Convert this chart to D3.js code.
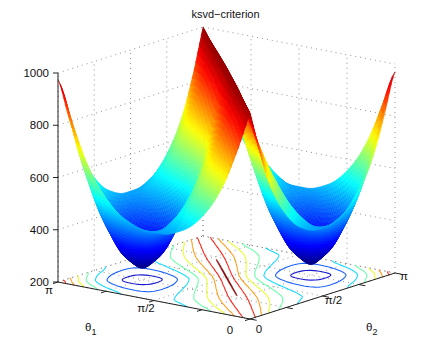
<!doctype html>
<html lang="en">
<head>
<meta charset="utf-8">
<title>ksvd-criterion</title>
<script src="https://d3js.org/d3.v7.min.js"></script>
<style>
    html, body { margin: 0; padding: 0; background: #fff; }
    svg { display: block; }
    text { font-family: "Liberation Sans", Arial, sans-serif; fill: #111; }
</style>
</head>
<body>
<script>
    // heights, theta1 = row, theta2 = column, steps of pi/16
    const zRows = [
        [988, 842, 716, 622, 556, 508, 480, 462, 460, 462, 480, 508, 556, 622, 716, 842, 970],
        [842, 990, 858, 747, 660, 594, 541, 503, 462, 435, 423, 431, 454, 500, 579, 691, 842],
        [716, 858, 992, 872, 769, 683, 612, 541, 480, 423, 382, 360, 360, 391, 457, 579, 716],
        [622, 747, 872, 995, 881, 779, 683, 594, 508, 431, 360, 305, 286, 305, 391, 500, 622],
        [556, 660, 769, 881, 999, 881, 769, 660, 556, 454, 360, 286, 242, 286, 360, 454, 556],
        [508, 594, 683, 779, 881, 1001, 872, 747, 622, 500, 391, 305, 286, 305, 360, 431, 508],
        [480, 541, 612, 683, 769, 872, 1002, 858, 716, 579, 457, 391, 360, 360, 382, 423, 480],
        [462, 503, 541, 594, 660, 747, 858, 1003, 842, 691, 579, 500, 454, 431, 423, 435, 462],
        [460, 462, 480, 508, 556, 622, 716, 842, 1004, 842, 716, 622, 556, 508, 480, 462, 460],
        [462, 435, 423, 431, 454, 500, 579, 691, 842, 1003, 858, 747, 660, 594, 541, 503, 462],
        [480, 423, 382, 360, 360, 391, 457, 579, 716, 858, 1002, 872, 769, 683, 612, 541, 480],
        [508, 431, 360, 305, 286, 305, 391, 500, 622, 747, 872, 1001, 881, 779, 683, 594, 508],
        [556, 454, 360, 286, 245, 286, 360, 454, 556, 660, 769, 881, 999, 881, 769, 660, 556],
        [622, 500, 391, 305, 286, 305, 360, 431, 508, 594, 683, 779, 881, 998, 872, 747, 622],
        [716, 579, 457, 391, 360, 360, 382, 423, 480, 541, 612, 683, 769, 872, 997, 858, 716],
        [842, 691, 579, 500, 454, 431, 423, 435, 462, 503, 541, 594, 660, 747, 858, 998, 842],
        [975, 842, 716, 622, 556, 508, 480, 462, 460, 462, 480, 508, 556, 622, 716, 842, 999]
    ]
    const contourLevels = [300, 400, 500, 600, 700, 800, 900, 1000]
    const zTicks = [200, 400, 600, 800, 1000]
    const angleTicks = [0, 4, 8, 12, 16]   // in pi/16 steps, same index as zRows
    const angleLabels = ["0", "π/2", "π"]
    const angleLabelAt = [0, 8, 16]

    const width = 436
    const height = 360
    const cornerX = 250
    const cornerY = 319
    const last = zRows.length - 1

    // orthographic view, the three box edges as seen on screen
    const t1x = d3.scaleLinear([0, last], [0, -192])
    const t1y = d3.scaleLinear([0, last], [0, -37])
    const t2x = d3.scaleLinear([0, last], [0, 145])
    const t2y = d3.scaleLinear([0, last], [0, -46])
    const zy = d3.scaleLinear([200, 1000], [0, -209])

    const px = (a, b) => cornerX + t1x(a) + t2x(b)
    const py = (a, b, z) => cornerY + t1y(a) + t2y(b) + zy(z)

    const jet = d3.scaleLinear()
        .domain([0, .125, .375, .625, .875, 1].map(t => 245 + t * 760))
        .range(["#000080", "#0000ff", "#00ffff", "#ffff00", "#ff0000", "#800000"])
        .clamp(true)

    const svg = d3.select("body").append("svg")
        .attr("width", width)
        .attr("height", height)

    // same as shading interp: colour runs smoothly inside each table cell
    function cr(p0, p1, p2, p3, t) {
        return p1 + .5 * t * (p2 - p0 + t * (2 * p0 - 5 * p1 + 4 * p2 - p3 + t * (3 * (p1 - p2) + p3 - p0)))
    }
    function at(i, j) {
        return zRows[Math.max(0, Math.min(last, i))][Math.max(0, Math.min(last, j))]
    }
    function zAt(x, y) {
        const i = Math.min(Math.floor(x), last - 1)
        const j = Math.min(Math.floor(y), last - 1)
        const fx = x - i
        const fy = y - j
        // keep the ridge sharp along the diagonal
        const flat = fx >= fy
            ? at(i, j) + fx * (at(i + 1, j) - at(i, j)) + fy * (at(i + 1, j + 1) - at(i + 1, j))
            : at(i, j) + fy * (at(i, j + 1) - at(i, j)) + fx * (at(i + 1, j + 1) - at(i, j + 1))
        const col = d3.range(-1, 3).map(k => cr(at(i + k, j - 1), at(i + k, j), at(i + k, j + 1), at(i + k, j + 2), fy))
        const round = cr(col[0], col[1], col[2], col[3], fx)
        const w = Math.max(0, Math.min(1, Math.abs(x - y) - 1))
        return flat + (round - flat) * w
    }

    const sub = 5
    const n = last * sub + 1
    const fine = d3.range(n).map(i => d3.range(n).map(j => zAt(i / sub, j / sub)))

    // grid on the two back walls and the floor
    const gridLines = []
    for (const t of angleTicks) {
        gridLines.push([[px(last, t), py(last, t, 200)], [px(last, t), py(last, t, 1000)]])
        gridLines.push([[px(t, last), py(t, last, 200)], [px(t, last), py(t, last, 1000)]])
        gridLines.push([[px(t, 0), py(t, 0, 200)], [px(t, last), py(t, last, 200)]])
        gridLines.push([[px(0, t), py(0, t, 200)], [px(last, t), py(last, t, 200)]])
    }
    for (const z of zTicks) {
        gridLines.push([[px(last, 0), py(last, 0, z)], [px(last, last), py(last, last, z)]])
        gridLines.push([[px(last, last), py(last, last, z)], [px(0, last), py(0, last, z)]])
    }
    svg.append("g")
        .selectAll("path")
        .data(gridLines)
        .join("path")
        .attr("d", d3.line())
        .attr("fill", "none")
        .attr("stroke", "#777")
        .attr("stroke-width", .8)
        .attr("stroke-dasharray", "1 4")

    // floor contours, d3.contours puts sample k at k + .5
    const flat = []
    for (let j = 0; j < n; j++) for (let i = 0; i < n; i++) flat.push(fine[i][j])
    const contourLine = d3.line()
        .defined(d => d[0] > 0 && d[0] < n && d[1] > 0 && d[1] < n)
        .x(d => px((d[0] - .5) / sub, (d[1] - .5) / sub))
        .y(d => py((d[0] - .5) / sub, (d[1] - .5) / sub, 200))
    const rings = []
    for (const c of d3.contours().size([n, n]).thresholds(contourLevels)(flat)) {
        for (const poly of c.coordinates) for (const ring of poly) rings.push({ level: c.value, ring })
    }
    svg.append("g")
        .selectAll("path")
        .data(rings)
        .join("path")
        .attr("d", d => contourLine(d.ring))
        .attr("fill", "none")
        .attr("stroke", d => jet(d.level))
        .attr("stroke-width", d => d.level === 1000 ? 1.4 : 1.1)
        .attr("stroke-linecap", "round")
        .attr("stroke-opacity", .9)

    // surface, far corner first
    const cells = []
    const vertex = (i, j) => [px(i / sub, j / sub), py(i / sub, j / sub, fine[i][j])]
    for (let i = n - 2; i >= 0; i--) {
        for (let j = n - 2; j >= 0; j--) {
            if (i === j) {
                cells.push({ pts: [vertex(i, j), vertex(i + 1, j), vertex(i + 1, j + 1)], z: (fine[i][j] + fine[i + 1][j] + fine[i + 1][j + 1]) / 3 })
                cells.push({ pts: [vertex(i, j), vertex(i, j + 1), vertex(i + 1, j + 1)], z: (fine[i][j] + fine[i][j + 1] + fine[i + 1][j + 1]) / 3 })
            } else {
                cells.push({
                    pts: [vertex(i, j), vertex(i + 1, j), vertex(i + 1, j + 1), vertex(i, j + 1)],
                    z: (fine[i][j] + fine[i + 1][j] + fine[i + 1][j + 1] + fine[i][j + 1]) / 4
                })
            }
        }
    }
    svg.append("g")
        .selectAll("path")
        .data(cells)
        .join("path")
        .attr("d", d => d3.line()(d.pts) + "Z")
        .attr("fill", d => jet(d.z))
        .attr("stroke", d => jet(d.z))
        .attr("stroke-width", .5)

    // axes
    const axis = svg.append("g").attr("stroke", "#222").attr("stroke-width", 1).attr("fill", "none")
    axis.append("path").attr("d", d3.line()([[px(last, 0), py(last, 0, 1000)], [px(last, 0), py(last, 0, 200)], [px(0, 0), py(0, 0, 200)], [px(0, last), py(0, last, 200)]]))
    const tickLen = .55
    for (const t of angleTicks) {
        axis.append("path").attr("d", d3.line()([[px(t, 0), py(t, 0, 200)], [px(t, -tickLen), py(t, -tickLen, 200)]]))
        axis.append("path").attr("d", d3.line()([[px(0, t), py(0, t, 200)], [px(-tickLen, t), py(-tickLen, t, 200)]]))
    }
    for (const z of zTicks) {
        axis.append("path").attr("d", d3.line()([[px(last, 0), py(last, 0, z)], [px(last, 0) - 5, py(last, 0, z)]]))
    }

    const labels = svg.append("g").attr("font-size", 11.5).attr("text-anchor", "middle")
    labels.selectAll(".zl")
        .data(zTicks)
        .join("text")
        .attr("class", "zl")
        .attr("x", px(last, 0) - 9)
        .attr("y", z => py(last, 0, z) + 4)
        .attr("text-anchor", "end")
        .text(z => z)

    // label nudges off the axis ends, these do not sit at a constant distance
    const t1Nudge = [[-20, 15], [-8, 11.5], [-9, 12]]
    const t2Nudge = [[9, 14], [11, 8], [9, 7]]
    angleLabels.forEach((label, k) => {
        const at1 = angleLabelAt[k]
        labels.append("text")
            .attr("x", px(at1, 0) + t1Nudge[k][0])
            .attr("y", py(at1, 0, 200) + t1Nudge[k][1])
            .text(label)
        labels.append("text")
            .attr("x", px(0, at1) + t2Nudge[k][0])
            .attr("y", py(0, at1, 200) + t2Nudge[k][1])
            .text(label)
    })

    function thetaLabel(x, y, index) {
        const t = labels.append("text").attr("x", x).attr("y", y).attr("text-anchor", "start")
        t.append("tspan").text("θ")
        t.append("tspan").attr("dy", 4).attr("font-size", 9).text(index)
    }
    thetaLabel(85, 331, "1")
    thetaLabel(366, 331, "2")

    labels.append("text")
        .attr("x", 225.5)
        .attr("y", 18)
        .attr("font-size", 11)
        .text("ksvd−criterion")
</script>
</body>
</html>
